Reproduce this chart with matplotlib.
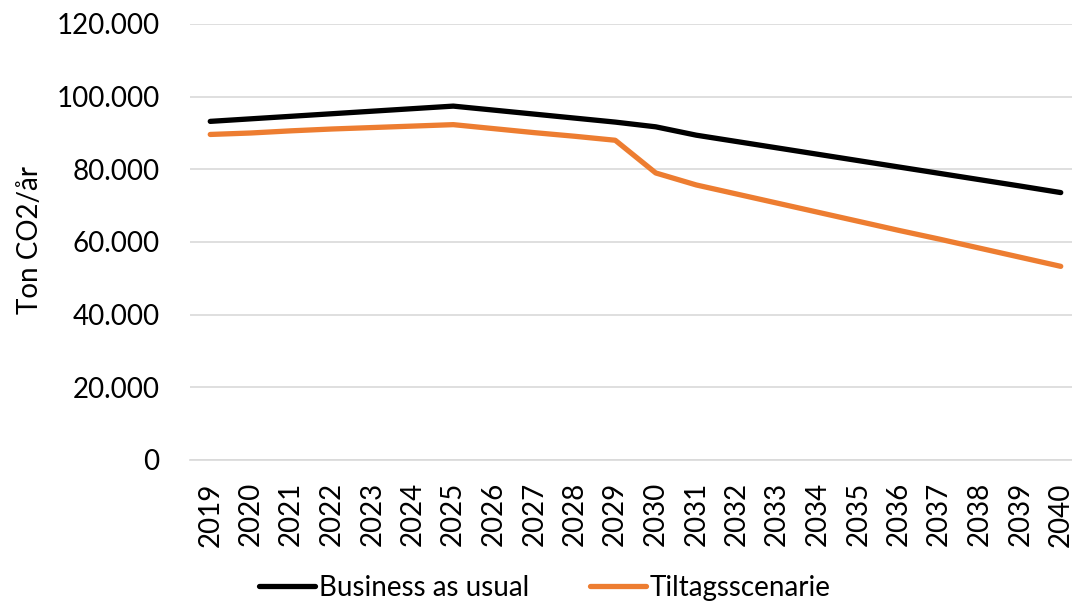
import matplotlib
matplotlib.use("Agg")
import matplotlib.pyplot as plt
from matplotlib.ticker import FuncFormatter

plt.rcParams['font.family'] = ['Lato', 'DejaVu Sans']

years = list(range(2019, 2041))
bau = [93200, 93900, 94600, 95300, 96000, 96700, 97400,
       96300, 95200, 94100, 93000, 91700, 89400,
       87650, 85900, 84150, 82400, 80650, 78900, 77150, 75400, 73600]
tiltag = [89600, 90000, 90600, 91100, 91500, 91900, 92300,
          91200, 90100, 89100, 88000, 79000, 75700,
          73200, 70700, 68200, 65700, 63200, 60800, 58300, 55800, 53300]
yticks = [0, 20000, 40000, 60000, 80000, 100000, 120000]
labels = ["Business as usual", "Tiltagsscenarie"]
colors = ["#000000", "#ED7D31"]

W, H = 1072, 605
fig = plt.figure(figsize=(W / 100, H / 100), dpi=100)
left, right, bottom, top = 190, 1081, 460, 24
ax = fig.add_axes([left / W, (H - bottom) / H, (right - left) / W, (bottom - top) / H])

ax.plot(years, bau, color=colors[0], lw=3.8, solid_capstyle='round', solid_joinstyle='round', label=labels[0])
ax.plot(years, tiltag, color=colors[1], lw=3.8, solid_capstyle='round', solid_joinstyle='round', label=labels[1])

ax.set_xlim(2018.5, 2040.5)
ax.set_ylim(0, 120000)
ax.set_yticks(yticks)
ax.yaxis.set_major_formatter(FuncFormatter(lambda v, p: "0" if v == 0 else f"{int(v):,}".replace(",", ".")))
ax.set_xticks(years)
ax.set_xticklabels([str(y) for y in years], rotation=90)
ax.tick_params(axis='both', length=0, labelsize=20, colors='black')
ax.tick_params(axis='y', pad=22)
ax.tick_params(axis='x', pad=16)

ax.grid(axis='y', color='#D9D9D9', lw=1.2)
ax.set_axisbelow(True)
for s in ['top', 'right', 'left']:
    ax.spines[s].set_visible(False)
ax.spines['bottom'].set_color('#D9D9D9')
ax.spines['bottom'].set_linewidth(1.2)

fig.text(30 / W, (H - 240) / H, "Ton CO2/år", rotation=90, fontsize=20, va='center', ha='center')

leg = fig.legend(loc='center', bbox_to_anchor=(545 / W, (H - 588) / H), ncol=2, frameon=False,
                 fontsize=20, handlelength=2.0, handletextpad=0.15, columnspacing=2.2)

fig.savefig("out.png", dpi=100)
